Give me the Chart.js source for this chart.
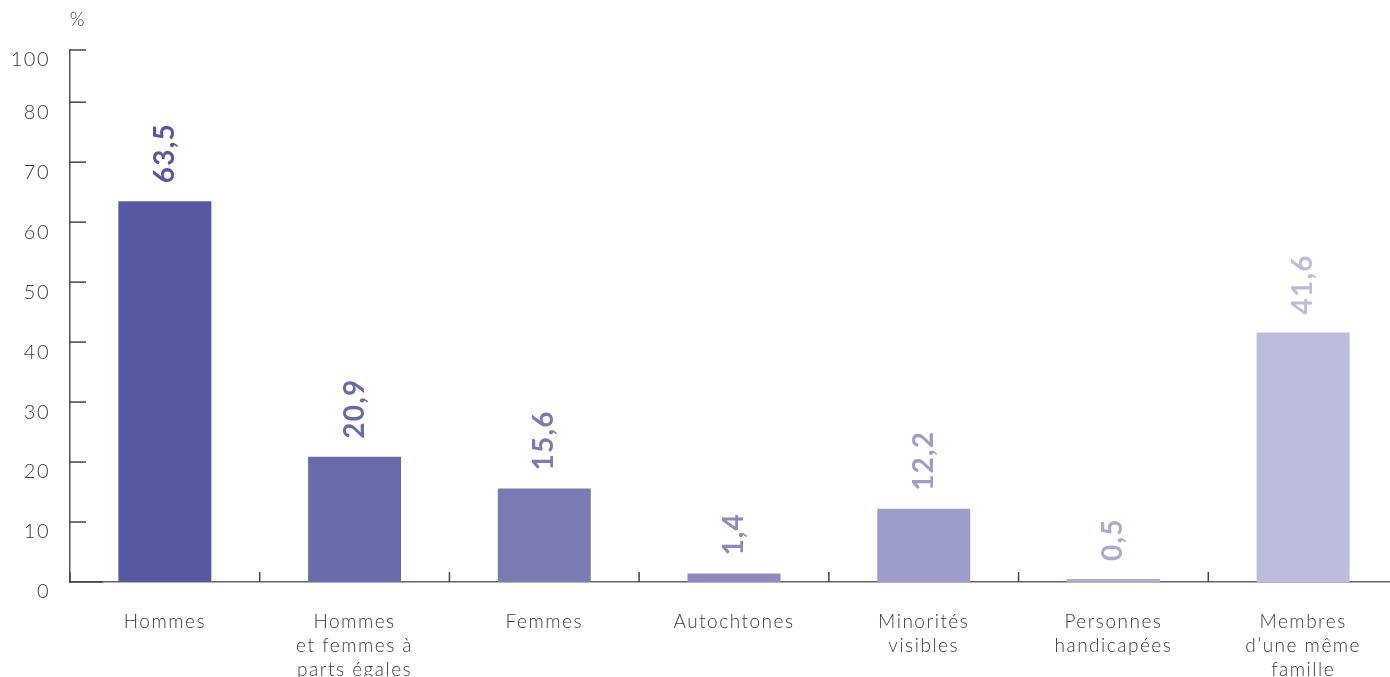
<!DOCTYPE html>
<html><head><meta charset="utf-8">
<script src="https://cdn.jsdelivr.net/npm/chart.js@4.4.1/dist/chart.umd.min.js"></script>
<style>html,body{margin:0;padding:0;background:#fff;overflow:hidden}
#wrap{position:relative;width:1398px;height:677px}
</style></head><body>
<div id="wrap"><canvas id="c" width="1398" height="677"></canvas></div>
<script>
const categories = [["Hommes"],["Hommes","et femmes à","parts égales"],["Femmes"],["Autochtones"],["Minorités","visibles"],["Personnes","handicapées"],["Membres","d’une même","famille"]];
const values = [63.5, 20.9, 15.6, 1.4, 12.2, 0.5, 41.6];
const barColors = ['#5659a2','#6a6bab','#7b7bb4','#8b8bbf','#9c9dca','#ababd3','#bcbddc'];
const yTickValues = [0, 10, 20, 30, 40, 50, 60, 70, 80, 88.7];
const yTickLabels = ['0','10','20','30','40','50','60','70','80','100'];
const yUnit = '%';
const FONT = 'Lato';

const fmt = v => String(v).replace('.', ',');

const decor = {
  id: 'decor',
  beforeDraw(chart) {
    chart.ctx.letterSpacing = '1.5px';
  },
  afterDatasetsDraw(chart) {
    const {ctx, scales: {x, y}, chartArea: a} = chart;
    ctx.save();
    ctx.strokeStyle = '#444';
    ctx.lineWidth = 1.5;
    yTickValues.forEach(v => {
      const py = y.getPixelForValue(v);
      ctx.beginPath();
      ctx.moveTo(a.left, py);
      ctx.lineTo(a.left + (v === 0 ? 33 : 16), py);
      ctx.stroke();
    });
    for (let i = 0; i < categories.length; i++) {
      const px = i === 0 ? a.left : (x.getPixelForValue(i - 1) + x.getPixelForValue(i)) / 2;
      ctx.beginPath();
      ctx.moveTo(px, a.bottom - 10);
      ctx.lineTo(px, a.bottom);
      ctx.stroke();
    }
    const meta = chart.getDatasetMeta(0);
    meta.data.forEach((bar, i) => {
      ctx.save();
      ctx.translate(bar.x, bar.y - 18);
      ctx.rotate(-Math.PI / 2);
      ctx.letterSpacing = '1.2px';
      ctx.textAlign = 'left';
      ctx.textBaseline = 'middle';
      ctx.fillStyle = barColors[i];
      ctx.font = 'bold 28px ' + FONT;
      ctx.fillText(fmt(values[i]), 0, 0);
      ctx.restore();
    });
    ctx.fillStyle = '#444';
    ctx.font = '300 19px ' + FONT;
    ctx.textAlign = 'center';
    ctx.textBaseline = 'middle';
    ctx.fillText(yUnit, a.left + 8, 20);
    ctx.restore();
  }
};

new Chart(document.getElementById('c'), {
  type: 'bar',
  data: {
    labels: categories,
    datasets: [{ data: values, backgroundColor: barColors, borderWidth: 0, barPercentage: 0.49, categoryPercentage: 1 }]
  },
  options: {
    responsive: false,
    animation: false,
    layout: { padding: { top: 50, left: 0, right: 0, bottom: 0 } },
    plugins: { legend: { display: false }, tooltip: { enabled: false } },
    scales: {
      x: {
        afterFit: s => { s.height = 95; },
        ticks: { padding: 28, color: '#3a3a3a', maxRotation: 0, autoSkip: false, font: { family: FONT, size: 19, weight: '300', lineHeight: 1.27 } },
        grid: { display: false, drawTicks: false },
        border: { display: true, color: '#666', width: 1.5 }
      },
      y: {
        min: 0, max: 88.7,
        afterBuildTicks: s => { s.ticks = yTickValues.map(v => ({ value: v })); },
        afterFit: s => { s.width = 70; },
        ticks: { callback: (v, i) => yTickLabels[i], labelOffset: 10, padding: 20, color: '#3a3a3a', font: { family: FONT, size: 20, weight: '300' } },
        grid: { display: false, drawTicks: false },
        border: { display: true, color: '#555', width: 1.5 }
      }
    }
  },
  plugins: [decor]
});
</script>
</body></html>
